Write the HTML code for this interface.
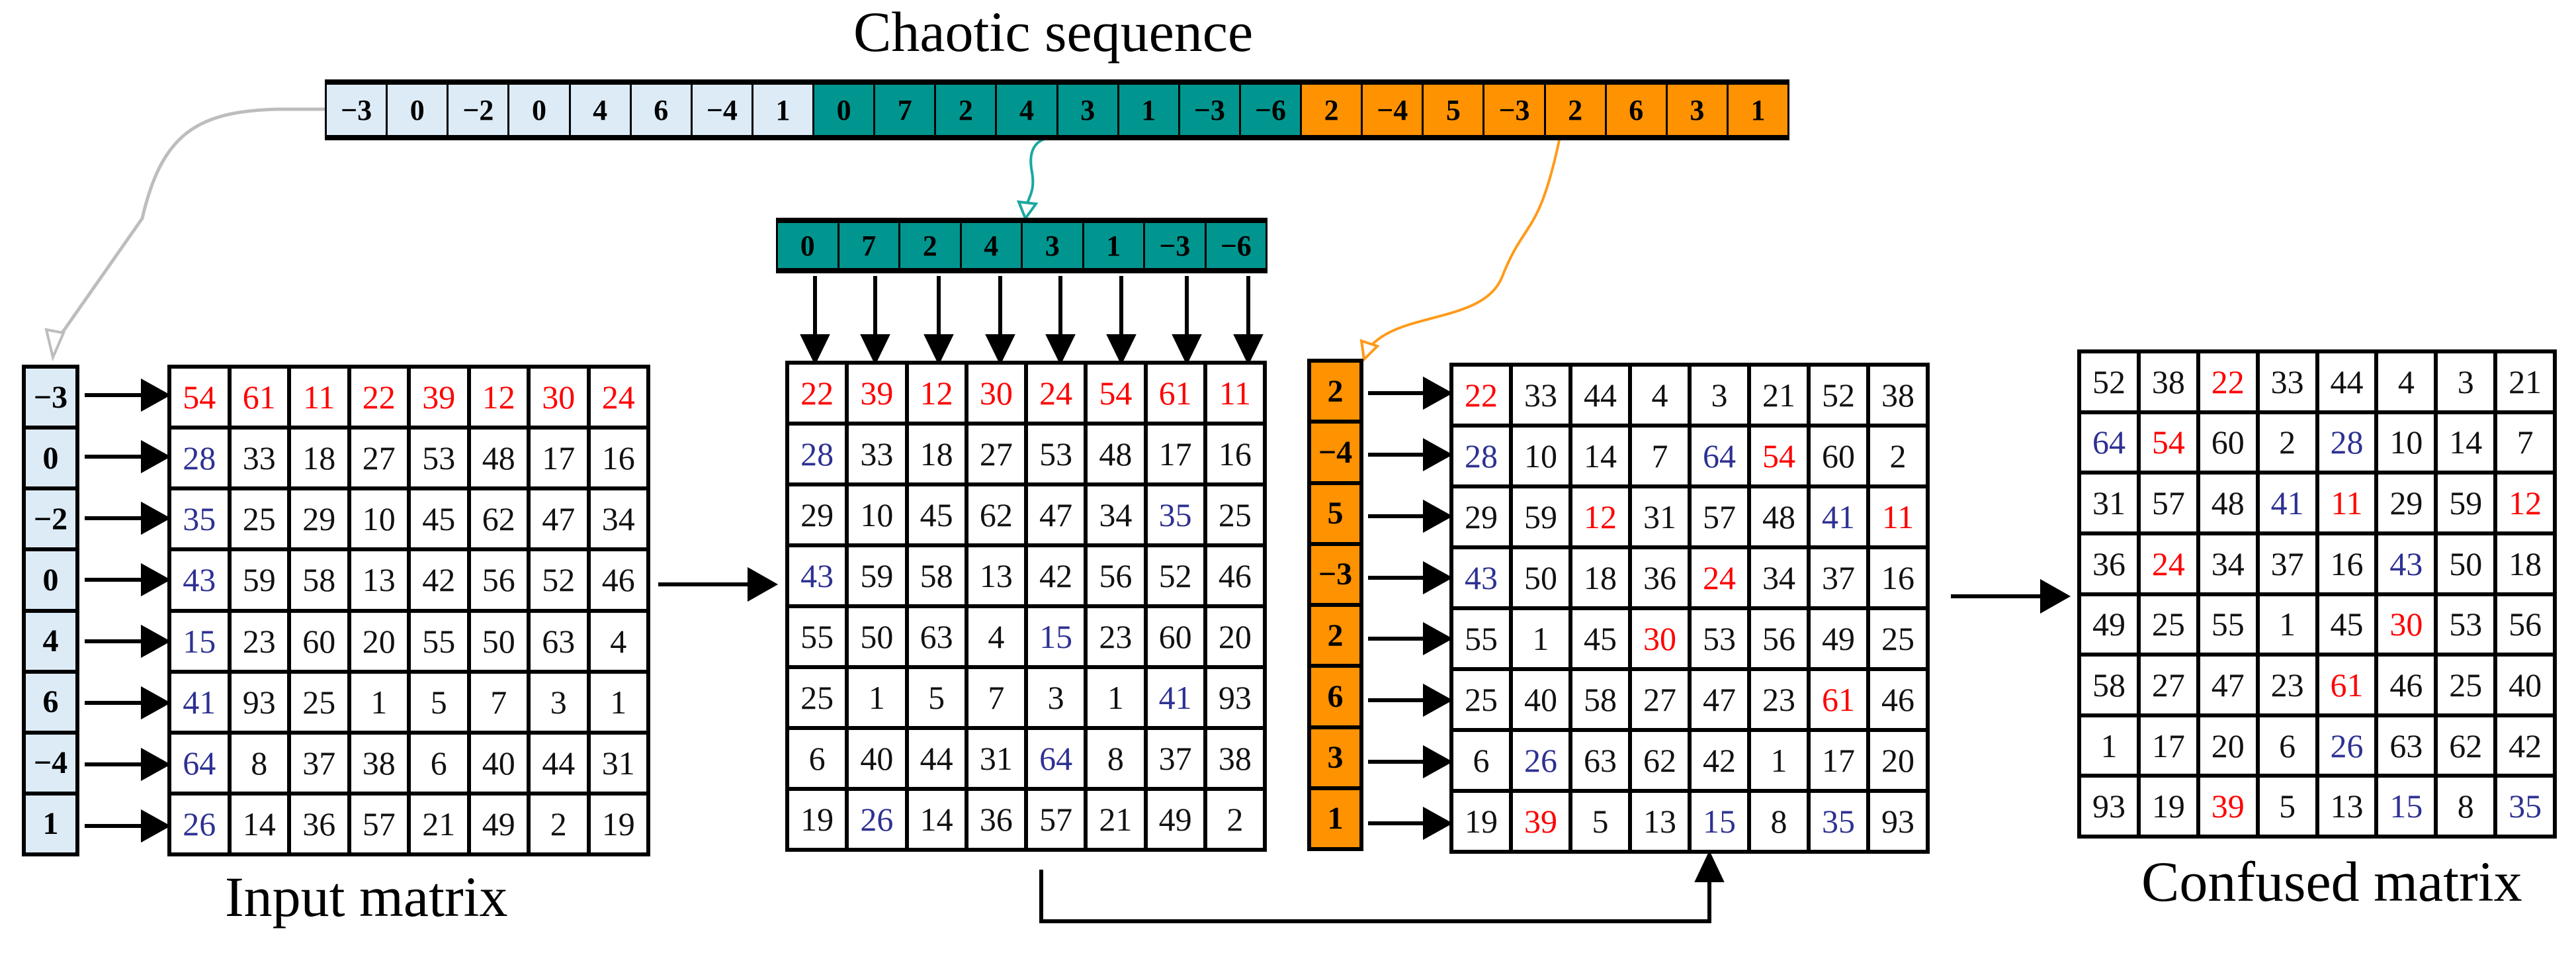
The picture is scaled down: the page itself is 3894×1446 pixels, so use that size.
<!DOCTYPE html>
<html><head><meta charset="utf-8">
<style>
body{margin:0;background:#fff;}
#c{position:relative;width:3894px;height:1446px;overflow:hidden;background:#fff;font-family:"Liberation Serif",serif;}
table{position:absolute;border-collapse:collapse;table-layout:fixed;}
.m td{border:6px solid #000;text-align:center;vertical-align:middle;font-size:50px;padding:0;background:#fff;color:#111;}
.r{color:#ff0000 !important;}
.b{color:#2e3192 !important;}
.s td{border-top:8px solid #000;border-bottom:8px solid #000;border-left:3px solid #000;border-right:3px solid #000;text-align:center;font-size:44px;font-weight:bold;padding:0;}
.lb{background:#ddebf7;}
.tl{background:#00968f;}
.or{background:#ff9200;}
.col td{border:6px solid #000;text-align:center;font-size:48px;font-weight:bold;padding:0;}
.lbl{position:absolute;font-size:86px;white-space:nowrap;}
</style></head><body><div id="c">
<svg width="3894" height="1446" style="position:absolute;left:0;top:0">
<defs>
<marker id="ah" markerWidth="10" markerHeight="10" refX="9" refY="5" orient="auto" markerUnits="userSpaceOnUse"></marker>
</defs>
<g stroke="#000" stroke-width="6" fill="#000">
<!-- left row arrows -->
<line x1="128" y1="597" x2="218" y2="597"/><polygon points="252,597 216,577 216,617"/>
<line x1="128" y1="690" x2="218" y2="690"/><polygon points="252,690 216,670 216,710"/>
<line x1="128" y1="783" x2="218" y2="783"/><polygon points="252,783 216,763 216,803"/>
<line x1="128" y1="876" x2="218" y2="876"/><polygon points="252,876 216,856 216,896"/>
<line x1="128" y1="969" x2="218" y2="969"/><polygon points="252,969 216,949 216,989"/>
<line x1="128" y1="1062" x2="218" y2="1062"/><polygon points="252,1062 216,1042 216,1082"/>
<line x1="128" y1="1155" x2="218" y2="1155"/><polygon points="252,1155 216,1135 216,1175"/>
<line x1="128" y1="1248" x2="218" y2="1248"/><polygon points="252,1248 216,1228 216,1268"/>
<!-- third matrix row arrows -->
<line x1="2068" y1="594" x2="2155" y2="594"/><polygon points="2190,594 2154,574 2154,614"/>
<line x1="2068" y1="687" x2="2155" y2="687"/><polygon points="2190,687 2154,667 2154,707"/>
<line x1="2068" y1="780" x2="2155" y2="780"/><polygon points="2190,780 2154,760 2154,800"/>
<line x1="2068" y1="873" x2="2155" y2="873"/><polygon points="2190,873 2154,853 2154,893"/>
<line x1="2068" y1="965" x2="2155" y2="965"/><polygon points="2190,965 2154,945 2154,985"/>
<line x1="2068" y1="1058" x2="2155" y2="1058"/><polygon points="2190,1058 2154,1038 2154,1078"/>
<line x1="2068" y1="1151" x2="2155" y2="1151"/><polygon points="2190,1151 2154,1131 2154,1171"/>
<line x1="2068" y1="1244" x2="2155" y2="1244"/><polygon points="2190,1244 2154,1224 2154,1264"/>
<!-- down arrows -->
<line x1="1232" y1="417" x2="1232" y2="512"/><polygon points="1232,545 1214,508 1250,508"/>
<line x1="1323" y1="417" x2="1323" y2="512"/><polygon points="1323,545 1305,508 1341,508"/>
<line x1="1419" y1="417" x2="1419" y2="512"/><polygon points="1419,545 1401,508 1437,508"/>
<line x1="1512" y1="417" x2="1512" y2="512"/><polygon points="1512,545 1494,508 1530,508"/>
<line x1="1603" y1="417" x2="1603" y2="512"/><polygon points="1603,545 1585,508 1621,508"/>
<line x1="1695" y1="417" x2="1695" y2="512"/><polygon points="1695,545 1677,508 1713,508"/>
<line x1="1794" y1="417" x2="1794" y2="512"/><polygon points="1794,545 1776,508 1812,508"/>
<line x1="1887" y1="417" x2="1887" y2="512"/><polygon points="1887,545 1869,508 1905,508"/>
<!-- main arrows -->
<line x1="995" y1="883" x2="1135" y2="883"/><polygon points="1170,883 1133,862 1133,904"/>
<line x1="2949" y1="901" x2="3090" y2="901"/><polygon points="3124,901 3087,880 3087,922"/>
<polyline fill="none" points="1574,1314 1574,1392 2584,1392 2584,1328"/><polygon points="2584,1292 2566,1330 2602,1330"/>
</g>
<!-- curved connectors -->
<path d="M491,165 L420,165 C300,168 245,200 215,330 L82,520" fill="none" stroke="#bdbdbd" stroke-width="5"/>
<polygon points="80,540 70,498 96,503" fill="#fff" stroke="#bdbdbd" stroke-width="4"/>
<path d="M1582,209 C1560,215 1555,235 1560,260 C1566,295 1550,300 1552,318" fill="none" stroke="#1aa8a0" stroke-width="4"/>
<polygon points="1550,330 1540,305 1566,308" fill="#fff" stroke="#1aa8a0" stroke-width="4"/>
<path d="M2357,212 C2325,360 2305,330 2270,420 C2240,490 2110,470 2068,528" fill="none" stroke="#ff9a1a" stroke-width="4"/>
<polygon points="2062,543 2058,515 2082,523" fill="#fff" stroke="#ff9a1a" stroke-width="4"/>
</svg>

<div class="lbl" style="left:1290px;top:-2px;">Chaotic sequence</div>
<div class="lbl" style="left:340px;top:1305px;">Input matrix</div>
<div class="lbl" style="left:3237px;top:1282px;">Confused matrix</div>

<table class="s" style="left:491px;top:120px;width:2214px;height:92px;"><tr>
<td class="lb">−3</td><td class="lb">0</td><td class="lb">−2</td><td class="lb">0</td><td class="lb">4</td><td class="lb">6</td><td class="lb">−4</td><td class="lb">1</td>
<td class="tl">0</td><td class="tl">7</td><td class="tl">2</td><td class="tl">4</td><td class="tl">3</td><td class="tl">1</td><td class="tl">−3</td><td class="tl">−6</td>
<td class="or">2</td><td class="or">−4</td><td class="or">5</td><td class="or">−3</td><td class="or">2</td><td class="or">6</td><td class="or">3</td><td class="or">1</td>
</tr></table>

<table class="s" style="left:1173px;top:329px;width:743px;height:84px;"><tr>
<td class="tl">0</td><td class="tl">7</td><td class="tl">2</td><td class="tl">4</td><td class="tl">3</td><td class="tl">1</td><td class="tl">−3</td><td class="tl">−6</td>
</tr></table>

<table class="col" style="left:33px;top:551px;width:87px;height:743px;">
<tr><td class="lb">−3</td></tr><tr><td class="lb">0</td></tr><tr><td class="lb">−2</td></tr><tr><td class="lb">0</td></tr><tr><td class="lb">4</td></tr><tr><td class="lb">6</td></tr><tr><td class="lb">−4</td></tr><tr><td class="lb">1</td></tr>
</table>

<table class="col" style="left:1976px;top:542px;width:85px;height:744px;">
<tr><td class="or">2</td></tr><tr><td class="or">−4</td></tr><tr><td class="or">5</td></tr><tr><td class="or">−3</td></tr><tr><td class="or">2</td></tr><tr><td class="or">6</td></tr><tr><td class="or">3</td></tr><tr><td class="or">1</td></tr>
</table>

<table class="m" style="left:253px;top:551px;width:730px;height:743px;">
<tr><td class="r">54</td><td class="r">61</td><td class="r">11</td><td class="r">22</td><td class="r">39</td><td class="r">12</td><td class="r">30</td><td class="r">24</td></tr>
<tr><td class="b">28</td><td>33</td><td>18</td><td>27</td><td>53</td><td>48</td><td>17</td><td>16</td></tr>
<tr><td class="b">35</td><td>25</td><td>29</td><td>10</td><td>45</td><td>62</td><td>47</td><td>34</td></tr>
<tr><td class="b">43</td><td>59</td><td>58</td><td>13</td><td>42</td><td>56</td><td>52</td><td>46</td></tr>
<tr><td class="b">15</td><td>23</td><td>60</td><td>20</td><td>55</td><td>50</td><td>63</td><td>4</td></tr>
<tr><td class="b">41</td><td>93</td><td>25</td><td>1</td><td>5</td><td>7</td><td>3</td><td>1</td></tr>
<tr><td class="b">64</td><td>8</td><td>37</td><td>38</td><td>6</td><td>40</td><td>44</td><td>31</td></tr>
<tr><td class="b">26</td><td>14</td><td>36</td><td>57</td><td>21</td><td>49</td><td>2</td><td>19</td></tr>
</table>

<table class="m" style="left:1187px;top:545px;width:728px;height:742px;">
<tr><td class="r">22</td><td class="r">39</td><td class="r">12</td><td class="r">30</td><td class="r">24</td><td class="r">54</td><td class="r">61</td><td class="r">11</td></tr>
<tr><td class="b">28</td><td>33</td><td>18</td><td>27</td><td>53</td><td>48</td><td>17</td><td>16</td></tr>
<tr><td>29</td><td>10</td><td>45</td><td>62</td><td>47</td><td>34</td><td class="b">35</td><td>25</td></tr>
<tr><td class="b">43</td><td>59</td><td>58</td><td>13</td><td>42</td><td>56</td><td>52</td><td>46</td></tr>
<tr><td>55</td><td>50</td><td>63</td><td>4</td><td class="b">15</td><td>23</td><td>60</td><td>20</td></tr>
<tr><td>25</td><td>1</td><td>5</td><td>7</td><td>3</td><td>1</td><td class="b">41</td><td>93</td></tr>
<tr><td>6</td><td>40</td><td>44</td><td>31</td><td class="b">64</td><td>8</td><td>37</td><td>38</td></tr>
<tr><td>19</td><td class="b">26</td><td>14</td><td>36</td><td>57</td><td>21</td><td>49</td><td>2</td></tr>
</table>

<table class="m" style="left:2191px;top:548px;width:726px;height:742px;">
<tr><td class="r">22</td><td>33</td><td>44</td><td>4</td><td>3</td><td>21</td><td>52</td><td>38</td></tr>
<tr><td class="b">28</td><td>10</td><td>14</td><td>7</td><td class="b">64</td><td class="r">54</td><td>60</td><td>2</td></tr>
<tr><td>29</td><td>59</td><td class="r">12</td><td>31</td><td>57</td><td>48</td><td class="b">41</td><td class="r">11</td></tr>
<tr><td class="b">43</td><td>50</td><td>18</td><td>36</td><td class="r">24</td><td>34</td><td>37</td><td>16</td></tr>
<tr><td>55</td><td>1</td><td>45</td><td class="r">30</td><td>53</td><td>56</td><td>49</td><td>25</td></tr>
<tr><td>25</td><td>40</td><td>58</td><td>27</td><td>47</td><td>23</td><td class="r">61</td><td>46</td></tr>
<tr><td>6</td><td class="b">26</td><td>63</td><td>62</td><td>42</td><td>1</td><td>17</td><td>20</td></tr>
<tr><td>19</td><td class="r">39</td><td>5</td><td>13</td><td class="b">15</td><td>8</td><td class="b">35</td><td>93</td></tr>
</table>

<table class="m" style="left:3140px;top:528px;width:725px;height:739px;">
<tr><td>52</td><td>38</td><td class="r">22</td><td>33</td><td>44</td><td>4</td><td>3</td><td>21</td></tr>
<tr><td class="b">64</td><td class="r">54</td><td>60</td><td>2</td><td class="b">28</td><td>10</td><td>14</td><td>7</td></tr>
<tr><td>31</td><td>57</td><td>48</td><td class="b">41</td><td class="r">11</td><td>29</td><td>59</td><td class="r">12</td></tr>
<tr><td>36</td><td class="r">24</td><td>34</td><td>37</td><td>16</td><td class="b">43</td><td>50</td><td>18</td></tr>
<tr><td>49</td><td>25</td><td>55</td><td>1</td><td>45</td><td class="r">30</td><td>53</td><td>56</td></tr>
<tr><td>58</td><td>27</td><td>47</td><td>23</td><td class="r">61</td><td>46</td><td>25</td><td>40</td></tr>
<tr><td>1</td><td>17</td><td>20</td><td>6</td><td class="b">26</td><td>63</td><td>62</td><td>42</td></tr>
<tr><td>93</td><td>19</td><td class="r">39</td><td>5</td><td>13</td><td class="b">15</td><td>8</td><td class="b">35</td></tr>
</table>
</div></body></html>
